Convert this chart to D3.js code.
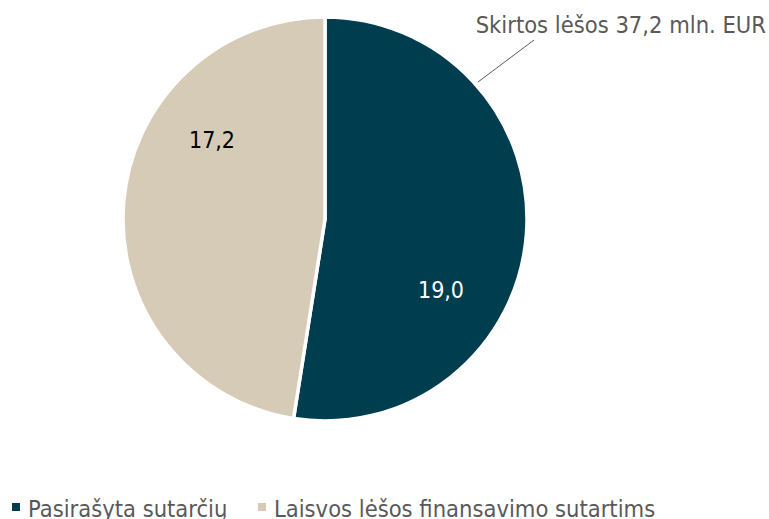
<!DOCTYPE html>
<html><head><meta charset="utf-8">
<script src="https://cdn.jsdelivr.net/npm/d3@7"></script>
<style>body{margin:0;background:#fff}svg{display:block}</style>
</head><body>
<svg id="c" width="769" height="519"></svg>
<script>
const categories = ["Pasirašyta sutarčių", "Laisvos lėšos finansavimo sutartims"];
const values = [19.0, 17.2];
const valueLabels = ["19,0", "17,2"];
const totalLabel = "Skirtos lėšos 37,2 mln. EUR";
const colors = ["#003d4f", "#d6cbb7"];
const labelColors = ["#ffffff", "#000000"];

const svg = d3.select("#c");
const font = "'DejaVu Sans Condensed', 'DejaVu Sans', sans-serif";
const cx = 325, cy = 219, r = 202;
const pie = d3.pie().sort(null).value(d => d)(values);
const arc = d3.arc().innerRadius(0).outerRadius(r);
const g = svg.append("g").attr("transform", `translate(${cx},${cy})`);
g.selectAll("path").data(pie).join("path")
  .attr("d", arc).attr("fill", (d,i) => colors[i])
  .attr("stroke", "#fff").attr("stroke-width", 3.5).attr("stroke-linejoin", "round");

const labelPos = [[116, 71], [-113, -79]];
g.selectAll("text.v").data(pie).join("text").attr("class","v")
  .attr("x", (d,i) => labelPos[i][0]).attr("y", (d,i) => labelPos[i][1])
  .attr("text-anchor", "middle").attr("dominant-baseline", "central")
  .attr("font-family", font).attr("font-size", 23)
  .attr("fill", (d,i) => labelColors[i]).text((d,i) => valueLabels[i]);

// leader line
svg.append("line").attr("x1", 478).attr("y1", 82).attr("x2", 534).attr("y2", 40)
  .attr("stroke", "#595959").attr("stroke-width", 1);
svg.append("text").attr("x", 766).attr("y", 33).attr("text-anchor", "end")
  .attr("font-family", font).attr("font-size", 23.5).attr("fill", "#595959").text(totalLabel);

// legend
const legX = [12, 258];
const lg = svg.selectAll("g.leg").data(categories).join("g").attr("class","leg")
  .attr("transform", (d,i) => `translate(${legX[i]},0)`);
lg.append("rect").attr("x", 0).attr("y", 503).attr("width", 8).attr("height", 8)
  .attr("fill", (d,i) => colors[i]);
lg.append("text").attr("x", 16).attr("y", 517)
  .attr("font-family", font).attr("font-size", 23.5).attr("fill", "#595959").text(d => d);
</script>
</body></html>
